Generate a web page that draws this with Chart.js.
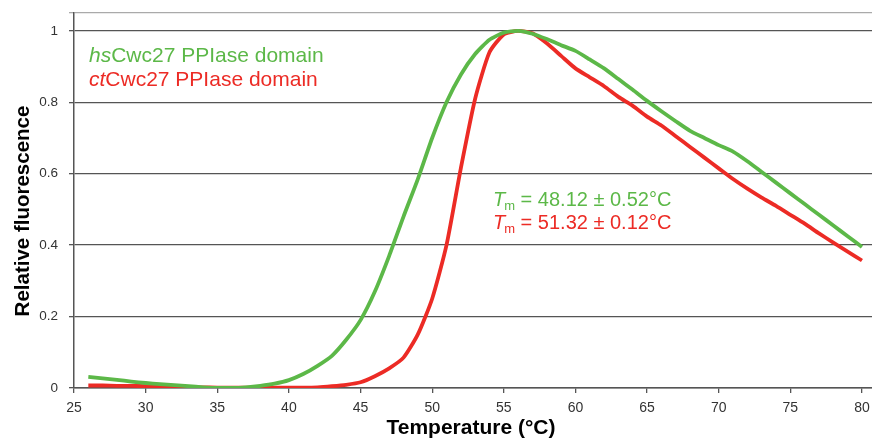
<!DOCTYPE html>
<html>
<head>
<meta charset="utf-8">
<script src="https://cdn.jsdelivr.net/npm/chart.js@4"></script>
<style>
html,body{margin:0;padding:0;background:#fff;}
#wrap{width:872px;height:441px;position:relative;}
</style>
</head>
<body>
<div id="wrap"><canvas id="c" width="872" height="441"></canvas></div>
<script>
const temps = [26,27,28,29,30,31,32,33,34,35,36,37,38,39,40,41,42,43,44,45,46,47,48,49,50,51,52,53,54,55,56,57,58,59,60,61,62,63,64,65,66,67,68,69,70,71,72,73,74,75,76,77,78,79,80];
const hsValues = [0.031,0.027,0.023,0.018,0.014,0.011,0.008,0.005,0.002,0.0,0.0,0.002,0.006,0.012,0.022,0.039,0.062,0.09,0.135,0.19,0.27,0.37,0.48,0.585,0.70,0.80,0.877,0.935,0.975,0.995,1.0,0.992,0.977,0.96,0.944,0.92,0.895,0.865,0.835,0.804,0.775,0.747,0.72,0.70,0.68,0.662,0.635,0.605,0.575,0.545,0.515,0.485,0.455,0.425,0.395];
const ctValues = [0.007,0.007,0.006,0.006,0.005,0.004,0.003,0.002,0.002,0.001,0.001,0.001,0.001,0.001,0.001,0.001,0.002,0.005,0.009,0.016,0.033,0.055,0.085,0.15,0.25,0.40,0.615,0.81,0.94,0.99,1.0,0.993,0.965,0.93,0.895,0.87,0.845,0.815,0.79,0.76,0.735,0.705,0.675,0.645,0.615,0.585,0.558,0.533,0.51,0.485,0.46,0.433,0.407,0.382,0.357];
const xTicks = [25,30,35,40,45,50,55,60,65,70,75,80];
const yTicks = [0,0.2,0.4,0.6,0.8,1];
const seriesNames = ['hsCwc27 PPIase domain','ctCwc27 PPIase domain'];
const tmLabels = ['48.12 ± 0.52°C','51.32 ± 0.12°C'];

const GREEN = '#5cb848';
const RED = '#ec2b25';
const FONT = '"Liberation Sans", Arial, Helvetica, sans-serif';

const textPlugin = {
  id: 'texts',
  afterDraw(chart) {
    const ctx = chart.ctx;
    ctx.save();
    ctx.textBaseline = 'middle';
    ctx.textAlign = 'left';
    // legend texts
    const legend = [[seriesNames[0], GREEN, 56],[seriesNames[1], RED, 80]];
    legend.forEach(([name, col, y]) => {
      ctx.fillStyle = col;
      const it = name.slice(0,2), rest = name.slice(2);
      ctx.font = 'italic 21px ' + FONT;
      ctx.fillText(it, 89, y);
      const w = ctx.measureText(it).width;
      ctx.font = '21px ' + FONT;
      ctx.fillText(rest, 89 + w, y);
    });
    // Tm texts
    const tms = [[tmLabels[0], GREEN, 200],[tmLabels[1], RED, 223]];
    tms.forEach(([lab, col, y]) => {
      ctx.fillStyle = col;
      let x = 493;
      ctx.font = 'italic 20px ' + FONT;
      ctx.fillText('T', x, y);
      x += ctx.measureText('T').width - 1;
      ctx.font = '13px ' + FONT;
      ctx.fillText('m', x, y + 6);
      x += ctx.measureText('m').width;
      ctx.font = '20px ' + FONT;
      ctx.fillText(' = ' + lab, x, y);
    });
    // axis titles
    ctx.fillStyle = '#000';
    ctx.font = 'bold 21px ' + FONT;
    ctx.textAlign = 'center';
    ctx.fillText('Temperature (°C)', 471, 428);
    ctx.font = 'bold 20.5px ' + FONT;
    ctx.translate(23.5, 211);
    ctx.rotate(-Math.PI/2);
    ctx.fillText('Relative fluorescence', 0, 0);
    ctx.restore();
  }
};

new Chart(document.getElementById('c'), {
  type: 'line',
  data: {
    datasets: [
      { label: seriesNames[0], data: temps.map((t,i)=>({x:t,y:hsValues[i]})), borderColor: GREEN, borderWidth: 3.8, pointRadius: 0, tension: 0.2, fill: false },
      { label: seriesNames[1], data: temps.map((t,i)=>({x:t,y:ctValues[i]})), borderColor: RED, borderWidth: 3.8, pointRadius: 0, tension: 0.2, fill: false }
    ]
  },
  options: {
    responsive: false,
    animation: false,
    layout: { padding: { top: 13, right: 0, left: 0, bottom: 0 } },
    plugins: { legend: { display: false }, tooltip: { enabled: false } },
    scales: {
      x: {
        type: 'linear', min: 25, max: 80.7,
        afterBuildTicks(s) { s.ticks = xTicks.map(v => ({value: v})); },
        afterFit(s) { s.height = 53; s.paddingLeft = 0; s.paddingRight = 0; },
        grid: { drawOnChartArea: false, drawTicks: true, tickLength: 5, color: '#555', lineWidth: 1.3 },
        border: { color: '#555', width: 1.5 },
        ticks: { color: '#333', font: { family: FONT, size: 14 }, padding: 7, maxRotation: 0, autoSkip: false, callback: v => String(v) }
      },
      y: {
        type: 'linear', min: 0, max: 1.05,
        afterBuildTicks(s) { s.ticks = yTicks.concat([1.05]).map(v => ({value: v})); },
        afterFit(s) { s.width = 74; s.paddingTop = 0; s.paddingBottom = 0; },
        grid: {
          color: c => c.tick && c.tick.value > 1.01 ? '#aaa' : '#555',
          lineWidth: 1.3,
          tickLength: 5
        },
        border: { color: '#555', width: 1.5 },
        ticks: { color: '#333', font: { family: FONT, size: 13.5 }, padding: 11, autoSkip: false, callback: v => v > 1.01 ? '' : String(Math.round(v*10)/10) }
      }
    }
  },
  plugins: [textPlugin]
});
</script>
</body>
</html>
